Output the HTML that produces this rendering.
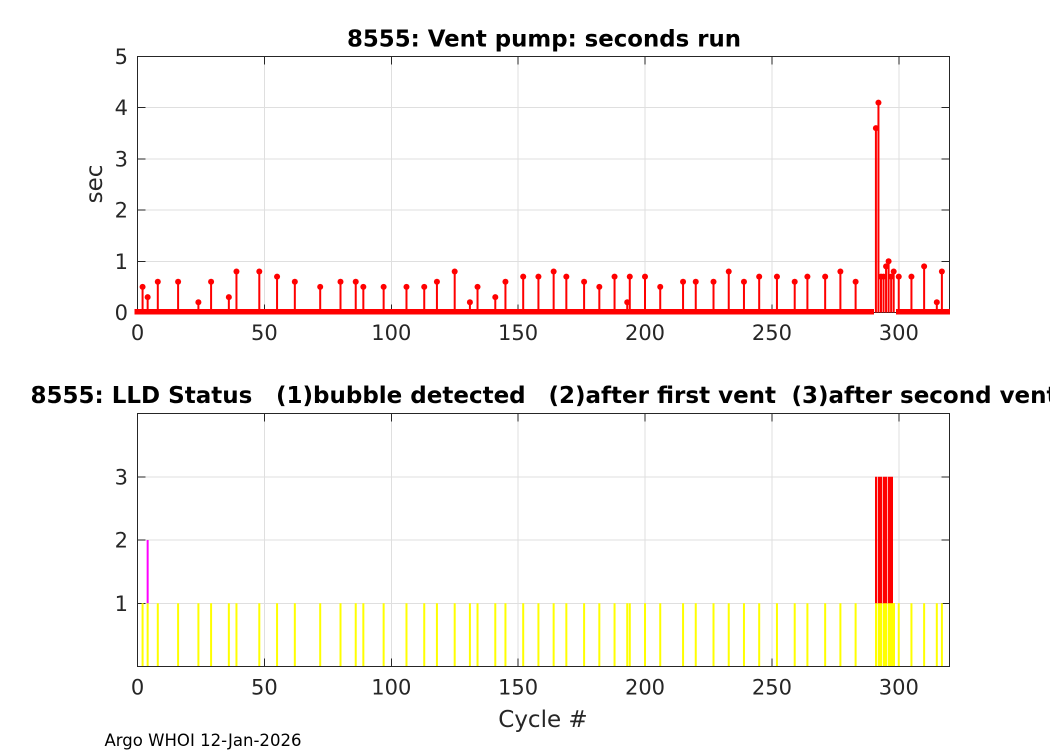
<!DOCTYPE html>
<html><head><meta charset="utf-8"><style>
html,body{margin:0;padding:0;background:#fff;}
svg{display:block;}
text{font-family:"DejaVu Sans","Liberation Sans",sans-serif;fill:#262626;}
</style></head><body>
<svg width="1050" height="750" viewBox="0 0 1050 750" xmlns="http://www.w3.org/2000/svg">
<rect width="1050" height="750" fill="#fff"/>

<!-- ===== TOP AXES ===== -->
<g shape-rendering="crispEdges" stroke="#dfdfdf" stroke-width="1" fill="none">
<path d="M264.375 56.5V312.5M391.25 56.5V312.5M518.125 56.5V312.5M645 56.5V312.5M771.875 56.5V312.5M898.75 56.5V312.5"/>
<path d="M137.5 261.3H949.5M137.5 210.1H949.5M137.5 158.9H949.5M137.5 107.7H949.5"/>
</g>
<g shape-rendering="crispEdges" stroke="#262626" stroke-width="1" fill="none">
<rect x="137.5" y="56.5" width="812" height="256"/>
<path d="M264.375 312.5v-8M391.25 312.5v-8M518.125 312.5v-8M645 312.5v-8M771.875 312.5v-8M898.75 312.5v-8"/>
<path d="M264.375 56.5v8M391.25 56.5v8M518.125 56.5v8M645 56.5v8M771.875 56.5v8M898.75 56.5v8"/>
<path d="M137.5 261.3h8M137.5 210.1h8M137.5 158.9h8M137.5 107.7h8"/>
<path d="M949.5 261.3h-8M949.5 210.1h-8M949.5 158.9h-8M949.5 107.7h-8"/>
</g>

<!-- baseline band of zero markers -->
<rect x="134.5" y="309" width="739.5" height="5.5" fill="#ff0000"/>
<rect x="896" y="309" width="54" height="5.5" fill="#ff0000"/>

<!-- stems -->
<path stroke="#ff0000" stroke-width="2" fill="none" d="
M142.58 312.5V286.9 M147.65 312.5V297.14 M157.80 312.5V281.78 M178.10 312.5V281.78
M198.40 312.5V302.26 M211.09 312.5V281.78 M228.85 312.5V297.14 M236.46 312.5V271.54
M259.30 312.5V271.54 M277.06 312.5V276.66 M294.83 312.5V281.78 M320.20 312.5V286.9
M340.50 312.5V281.78 M355.73 312.5V281.78 M363.34 312.5V286.9 M383.64 312.5V286.9
M406.48 312.5V286.9 M424.24 312.5V286.9 M436.93 312.5V281.78 M454.69 312.5V271.54
M469.91 312.5V302.26 M477.53 312.5V286.9 M495.29 312.5V297.14 M505.44 312.5V281.78
M523.20 312.5V276.66 M538.43 312.5V276.66 M553.65 312.5V271.54 M566.34 312.5V276.66
M584.10 312.5V281.78 M599.33 312.5V286.9 M614.55 312.5V276.66 M627.24 312.5V302.26
M629.78 312.5V276.66 M645.00 312.5V276.66 M660.23 312.5V286.9 M683.06 312.5V281.78
M695.75 312.5V281.78 M713.51 312.5V281.78 M728.74 312.5V271.54 M743.96 312.5V281.78
M759.19 312.5V276.66 M776.95 312.5V276.66 M794.71 312.5V281.78 M807.40 312.5V276.66
M825.16 312.5V276.66 M840.39 312.5V271.54 M855.61 312.5V281.78
M875.91 312.5V128.18 M878.45 312.5V102.58 M880.99 312.5V276.66 M883.53 312.5V276.66
M886.06 312.5V266.42 M888.60 312.5V261.3 M891.14 312.5V276.66 M893.68 312.5V271.54
M898.75 312.5V276.66 M911.44 312.5V276.66 M924.13 312.5V266.42 M936.81 312.5V302.26
M941.89 312.5V271.54"/>
<!-- markers -->
<g fill="#ff0000">
<circle cx="142.58" cy="286.9" r="3"/><circle cx="147.65" cy="297.14" r="3"/><circle cx="157.80" cy="281.78" r="3"/><circle cx="178.10" cy="281.78" r="3"/>
<circle cx="198.40" cy="302.26" r="3"/><circle cx="211.09" cy="281.78" r="3"/><circle cx="228.85" cy="297.14" r="3"/><circle cx="236.46" cy="271.54" r="3"/>
<circle cx="259.30" cy="271.54" r="3"/><circle cx="277.06" cy="276.66" r="3"/><circle cx="294.83" cy="281.78" r="3"/><circle cx="320.20" cy="286.9" r="3"/>
<circle cx="340.50" cy="281.78" r="3"/><circle cx="355.73" cy="281.78" r="3"/><circle cx="363.34" cy="286.9" r="3"/><circle cx="383.64" cy="286.9" r="3"/>
<circle cx="406.48" cy="286.9" r="3"/><circle cx="424.24" cy="286.9" r="3"/><circle cx="436.93" cy="281.78" r="3"/><circle cx="454.69" cy="271.54" r="3"/>
<circle cx="469.91" cy="302.26" r="3"/><circle cx="477.53" cy="286.9" r="3"/><circle cx="495.29" cy="297.14" r="3"/><circle cx="505.44" cy="281.78" r="3"/>
<circle cx="523.20" cy="276.66" r="3"/><circle cx="538.43" cy="276.66" r="3"/><circle cx="553.65" cy="271.54" r="3"/><circle cx="566.34" cy="276.66" r="3"/>
<circle cx="584.10" cy="281.78" r="3"/><circle cx="599.33" cy="286.9" r="3"/><circle cx="614.55" cy="276.66" r="3"/><circle cx="627.24" cy="302.26" r="3"/>
<circle cx="629.78" cy="276.66" r="3"/><circle cx="645.00" cy="276.66" r="3"/><circle cx="660.23" cy="286.9" r="3"/><circle cx="683.06" cy="281.78" r="3"/>
<circle cx="695.75" cy="281.78" r="3"/><circle cx="713.51" cy="281.78" r="3"/><circle cx="728.74" cy="271.54" r="3"/><circle cx="743.96" cy="281.78" r="3"/>
<circle cx="759.19" cy="276.66" r="3"/><circle cx="776.95" cy="276.66" r="3"/><circle cx="794.71" cy="281.78" r="3"/><circle cx="807.40" cy="276.66" r="3"/>
<circle cx="825.16" cy="276.66" r="3"/><circle cx="840.39" cy="271.54" r="3"/><circle cx="855.61" cy="281.78" r="3"/>
<circle cx="875.91" cy="128.18" r="3"/><circle cx="878.45" cy="102.58" r="3"/><circle cx="880.99" cy="276.66" r="3"/><circle cx="883.53" cy="276.66" r="3"/>
<circle cx="886.06" cy="266.42" r="3"/><circle cx="888.60" cy="261.3" r="3"/><circle cx="891.14" cy="276.66" r="3"/><circle cx="893.68" cy="271.54" r="3"/>
<circle cx="898.75" cy="276.66" r="3"/><circle cx="911.44" cy="276.66" r="3"/><circle cx="924.13" cy="266.42" r="3"/><circle cx="936.81" cy="302.26" r="3"/>
<circle cx="941.89" cy="271.54" r="3"/>
</g>

<!-- top labels -->
<text x="544" y="46.5" font-size="23" font-weight="bold" text-anchor="middle" fill="#000" style="fill:#000" textLength="394" lengthAdjust="spacingAndGlyphs">8555: Vent pump: seconds run</text>
<g font-size="21" text-anchor="end">
<text x="128" y="320">0</text>
<text x="128" y="268.8">1</text>
<text x="128" y="217.6">2</text>
<text x="128" y="166.4">3</text>
<text x="128" y="115.2">4</text>
<text x="128" y="64">5</text>
</g>
<g font-size="21" text-anchor="middle">
<text x="137.5" y="340">0</text>
<text x="264.4" y="340">50</text>
<text x="391.3" y="340">100</text>
<text x="518.1" y="340">150</text>
<text x="645" y="340">200</text>
<text x="771.9" y="340">250</text>
<text x="898.8" y="340">300</text>
</g>
<text transform="translate(102,184) rotate(-90)" font-size="23" text-anchor="middle">sec</text>

<!-- ===== BOTTOM AXES ===== -->
<g shape-rendering="crispEdges" stroke="#dfdfdf" stroke-width="1" fill="none">
<path d="M264.375 413.5V666.5M391.25 413.5V666.5M518.125 413.5V666.5M645 413.5V666.5M771.875 413.5V666.5M898.75 413.5V666.5"/>
<path d="M137.5 603.25H949.5M137.5 540H949.5M137.5 476.75H949.5"/>
</g>
<g shape-rendering="crispEdges" stroke="#262626" stroke-width="1" fill="none">
<rect x="137.5" y="413.5" width="812" height="253"/>
<path d="M264.375 666.5v-8M391.25 666.5v-8M518.125 666.5v-8M645 666.5v-8M771.875 666.5v-8M898.75 666.5v-8"/>
<path d="M264.375 413.5v8M391.25 413.5v8M518.125 413.5v8M645 413.5v8M771.875 413.5v8M898.75 413.5v8"/>
<path d="M137.5 603.25h8M137.5 540h8M137.5 476.75h8"/>
<path d="M949.5 603.25h-8M949.5 540h-8M949.5 476.75h-8"/>
</g>

<!-- yellow status 1 -->
<path stroke="#ffff00" stroke-width="2" fill="none" d="
M142.58 666V603.25 M147.65 666V603.25 M157.80 666V603.25 M178.10 666V603.25
M198.40 666V603.25 M211.09 666V603.25 M228.85 666V603.25 M236.46 666V603.25
M259.30 666V603.25 M277.06 666V603.25 M294.83 666V603.25 M320.20 666V603.25
M340.50 666V603.25 M355.73 666V603.25 M363.34 666V603.25 M383.64 666V603.25
M406.48 666V603.25 M424.24 666V603.25 M436.93 666V603.25 M454.69 666V603.25
M469.91 666V603.25 M477.53 666V603.25 M495.29 666V603.25 M505.44 666V603.25
M523.20 666V603.25 M538.43 666V603.25 M553.65 666V603.25 M566.34 666V603.25
M584.10 666V603.25 M599.33 666V603.25 M614.55 666V603.25 M627.24 666V603.25
M629.78 666V603.25 M645.00 666V603.25 M660.23 666V603.25 M683.06 666V603.25
M695.75 666V603.25 M713.51 666V603.25 M728.74 666V603.25 M743.96 666V603.25
M759.19 666V603.25 M776.95 666V603.25 M794.71 666V603.25 M807.40 666V603.25
M825.16 666V603.25 M840.39 666V603.25 M855.61 666V603.25
M898.75 666V603.25 M911.44 666V603.25 M924.13 666V603.25 M936.81 666V603.25
M941.89 666V603.25"/>
<g fill="#ffff00">
<rect x="875" y="603" width="2.3" height="63"/>
<rect x="878" y="603" width="4.3" height="63"/>
<rect x="883" y="603" width="4" height="63"/>
<rect x="887.7" y="603" width="7.3" height="63"/>
</g>
<!-- red status 3 -->
<g fill="#ff0000">
<rect x="875" y="476.75" width="2" height="126.5"/>
<rect x="877.7" y="476.75" width="4.3" height="126.5"/>
<rect x="882.7" y="476.75" width="4.3" height="126.5"/>
<rect x="887.7" y="476.75" width="5.3" height="126.5"/>
</g>
<!-- magenta status 2 -->
<path stroke="#ff00ff" stroke-width="2" d="M147.65 540V603.25"/>

<!-- bottom labels -->
<g font-size="23" font-weight="bold" style="fill:#000">
<text x="30.5" y="403" style="fill:#000">8555: LLD Status</text>
<text x="276" y="403" style="fill:#000">(1)bubble detected</text>
<text x="548.5" y="403" style="fill:#000">(2)after first vent</text>
<text x="791.5" y="403" style="fill:#000">(3)after second vent</text>
</g>
<g font-size="21" text-anchor="end">
<text x="128" y="610.75">1</text>
<text x="128" y="547.5">2</text>
<text x="128" y="484.25">3</text>
</g>
<g font-size="21" text-anchor="middle">
<text x="137.5" y="694.5">0</text>
<text x="264.4" y="694.5">50</text>
<text x="391.3" y="694.5">100</text>
<text x="518.1" y="694.5">150</text>
<text x="645" y="694.5">200</text>
<text x="771.9" y="694.5">250</text>
<text x="898.8" y="694.5">300</text>
</g>
<text x="543" y="727" font-size="23" text-anchor="middle">Cycle #</text>
<text x="104.5" y="746" font-size="16.5" style="fill:#000" textLength="197" lengthAdjust="spacingAndGlyphs">Argo WHOI 12-Jan-2026</text>
</svg>
</body></html>
